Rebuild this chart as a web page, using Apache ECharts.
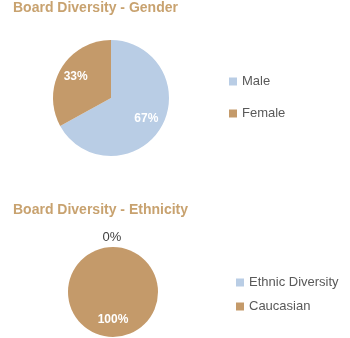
<!DOCTYPE html>
<html><head><meta charset="utf-8">
<script src="https://cdn.jsdelivr.net/npm/echarts@6/dist/echarts.min.js"></script>
<style>html,body{margin:0;padding:0;background:#fff}#c{width:350px;height:338px}</style>
</head><body><div id="c"></div>
<script>
var genderCategories = ['Male', 'Female'];
var genderValues = [67, 33];
var ethnicCategories = ['Ethnic Diversity', 'Caucasian'];
var ethnicValues = [0, 100];
var sliceColors = ['#b9cde5', '#c49a6a'];

var FONT = 'Liberation Sans, Arial, sans-serif';

function mk(cats, vals) {
  return cats.map(function (c, i) {
    return { name: c, value: vals[i], itemStyle: { color: sliceColors[i] } };
  });
}
function ghost(cats, vals) {
  return mk(cats, vals).map(function (d) { d.itemStyle = { color: 'rgba(0,0,0,0)' }; return d; });
}
var chart = echarts.init(document.getElementById('c'), null, { renderer: 'canvas' });
var insideLabel = { show: true, position: 'inside', formatter: '{d}%', color: '#fff', fontFamily: FONT, fontSize: 12, fontWeight: 'bold' };

// inner labels for non-zero slices
var ethInner = ghost(ethnicCategories, ethnicValues).map(function (d) {
  if (d.value === 0) d.label = { show: false };
  return d;
});
// outer labels for zero slices (placed just above the pie)
var ethOuter = ghost(ethnicCategories, ethnicValues).map(function (d) {
  if (d.value !== 0) d.label = { show: false };
  return d;
});

var option = {
  animation: false,
  title: [
    { text: 'Board Diversity - Gender', left: 13, top: 1, padding: 0,
      textStyle: { fontFamily: FONT, fontSize: 14, fontWeight: 'bold', color: '#c8a26f' } },
    { text: 'Board Diversity - Ethnicity', left: 13, top: 203, padding: 0,
      textStyle: { fontFamily: FONT, fontSize: 14, fontWeight: 'bold', color: '#c8a26f' } }
  ],
  legend: [
    { data: genderCategories, orient: 'vertical', left: 229, top: 75, padding: 0,
      icon: 'rect', itemWidth: 8, itemHeight: 8, itemGap: 19,
      textStyle: { fontFamily: FONT, fontSize: 13, color: '#595959' } },
    { data: ethnicCategories, orient: 'vertical', left: 236, top: 276, padding: 0,
      icon: 'rect', itemWidth: 8, itemHeight: 8, itemGap: 11,
      textStyle: { fontFamily: FONT, fontSize: 13, color: '#595959' } }
  ],
  series: [
    { type: 'pie', center: [111, 98], radius: [0, 58], startAngle: 90, clockwise: true,
      avoidLabelOverlap: false, label: { show: false }, labelLine: { show: false },
      emphasis: { disabled: true },
      data: mk(genderCategories, genderValues) },
    { type: 'pie', center: [111, 98], radius: [18, 58], startAngle: 90, clockwise: true, silent: true,
      avoidLabelOverlap: false, label: insideLabel, labelLine: { show: false },
      emphasis: { disabled: true }, legendHoverLink: false,
      data: ghost(genderCategories, genderValues) },
    { type: 'pie', center: [113, 292], radius: [0, 45], startAngle: 90, clockwise: true,
      avoidLabelOverlap: false, label: { show: false }, labelLine: { show: false },
      emphasis: { disabled: true },
      data: mk(ethnicCategories, ethnicValues) },
    { type: 'pie', center: [113, 292], radius: [5, 45], startAngle: 90, clockwise: true, silent: true,
      avoidLabelOverlap: false, label: insideLabel, labelLine: { show: false },
      emphasis: { disabled: true }, legendHoverLink: false,
      data: ethInner },
    { type: 'pie', center: [112, 292], radius: [45, 59], startAngle: 90, clockwise: true, silent: true,
      avoidLabelOverlap: false,
      label: { show: true, position: 'inside', formatter: '{d}%', color: '#404040', fontFamily: FONT, fontSize: 13 },
      labelLine: { show: false },
      emphasis: { disabled: true }, legendHoverLink: false,
      data: ethOuter }
  ]
};
chart.setOption(option);
</script></body></html>
